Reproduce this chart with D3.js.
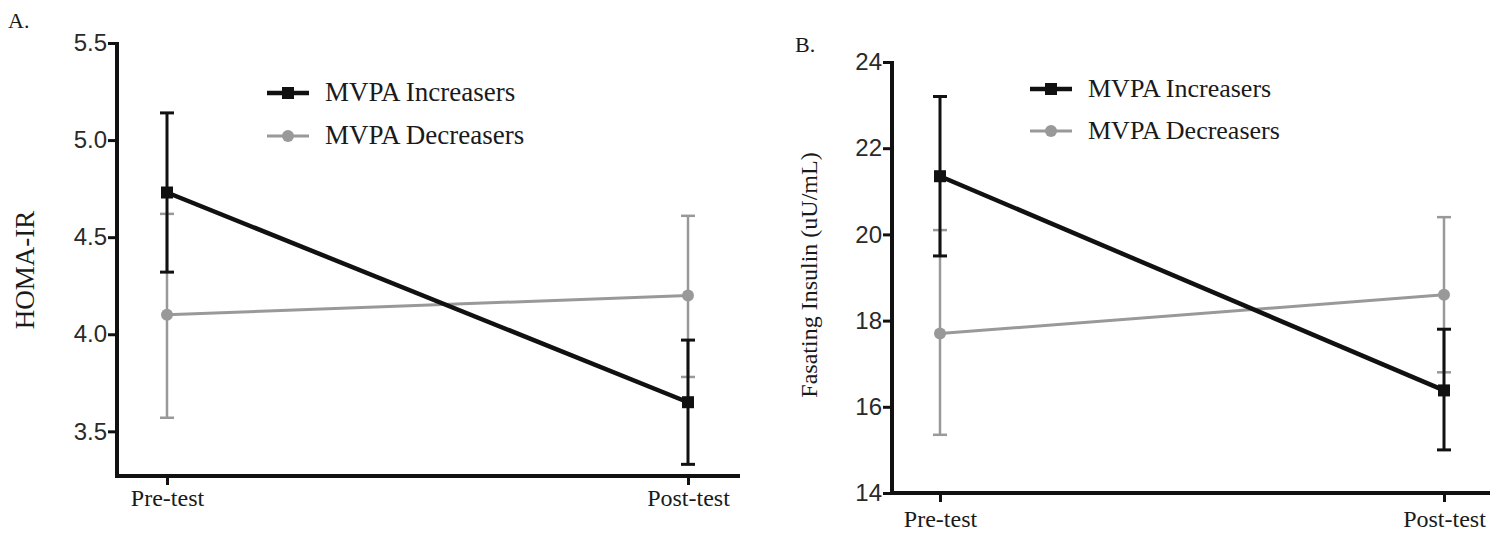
<!DOCTYPE html>
<html>
<head>
<meta charset="utf-8">
<script src="https://cdn.jsdelivr.net/npm/d3@7/dist/d3.min.js"></script>
<style>
  body { margin: 0; background: #fff; }
  svg { display: block; }
</style>
</head>
<body>
<svg id="chart" width="1504" height="538"></svg>
<script>
// ---------- DATA ----------
const categories = ["Pre-test", "Post-test"];
const seriesNames = ["MVPA Increasers", "MVPA Decreasers"];

// Panel A: HOMA-IR
const homaTicks = [3.5, 4.0, 4.5, 5.0, 5.5];
const homaIncMean = [4.73, 3.65];
const homaIncLow  = [4.32, 3.33];
const homaIncHigh = [5.14, 3.97];
const homaDecMean = [4.10, 4.20];
const homaDecLow  = [3.57, 3.78];
const homaDecHigh = [4.62, 4.61];

// Panel B: Fasting insulin
const insTicks = [14, 16, 18, 20, 22, 24];
const insIncMean = [21.35, 16.38];
const insIncLow  = [19.50, 15.00];
const insIncHigh = [23.20, 17.80];
const insDecMean = [17.70, 18.60];
const insDecLow  = [15.35, 16.80];
const insDecHigh = [20.10, 20.40];

// ---------- DRAW ----------
const svg = d3.select("#chart");
const BLACK = "#111", GRAY = "#999";
const SERIF = "Liberation Serif, Times New Roman, serif";
const SANS = "Liberation Sans, Arial, sans-serif";

function panel(opt) {
  const g = svg.append("g");
  const x = d3.scalePoint().domain(categories).range([opt.px0, opt.px1]);
  const y = d3.scaleLinear().domain(opt.domain).range([opt.yBottom, opt.yTop]);

  g.append("text").attr("x", opt.letterX).attr("y", opt.letterY)
    .attr("font-family", SERIF)
    .attr("font-size", 22).attr("fill", "#1a1a1a").text(opt.letter);

  const ya = g.append("g").attr("transform", `translate(${opt.axX},0)`)
    .call(d3.axisLeft(y).tickValues(opt.ticks).tickFormat(opt.fmt).tickSize(9).tickPadding(1));
  ya.select(".domain").remove();
  ya.selectAll(".tick line").attr("stroke", BLACK).attr("stroke-width", 3);
  ya.selectAll(".tick text").attr("font-family", SANS)
    .attr("font-size", 24).attr("fill", "#2a2a2a");

  const xa = g.append("g").attr("transform", `translate(0,${opt.yBottom})`)
    .call(d3.axisBottom(x).tickSize(9).tickPadding(opt.xPad));
  xa.select(".domain").remove();
  xa.selectAll(".tick line").attr("stroke", BLACK).attr("stroke-width", 3);
  xa.selectAll(".tick text").attr("font-family", SERIF)
    .attr("font-size", 24).attr("fill", "#1a1a1a");

  g.append("path")
    .attr("d", `M${opt.axX},${opt.yTop - 1}V${opt.yBottom}H${opt.axEnd}`)
    .attr("fill", "none").attr("stroke", BLACK).attr("stroke-width", 4)
    .attr("stroke-linejoin", "miter");

  g.append("text")
    .attr("transform", `translate(${opt.titleX},${opt.titleY}) rotate(-90)`)
    .attr("text-anchor", "middle")
    .attr("font-family", SERIF)
    .attr("font-size", opt.titleSize).attr("fill", "#1a1a1a").text(opt.title);

  const series = [
    {name: seriesNames[1], mean: opt.decMean, low: opt.decLow, high: opt.decHigh, color: GRAY, lw: 3, ew: 2.5, shape: "circle"},
    {name: seriesNames[0], mean: opt.incMean, low: opt.incLow, high: opt.incHigh, color: BLACK, lw: 4.5, ew: 3, shape: "square"}
  ];

  series.forEach(s => {
    const sg = g.append("g");
    categories.forEach((c, i) => {
      const cx = x(c);
      sg.append("line").attr("x1", cx).attr("x2", cx).attr("y1", y(s.low[i])).attr("y2", y(s.high[i]))
        .attr("stroke", s.color).attr("stroke-width", s.ew);
      [s.low[i], s.high[i]].forEach(v => {
        sg.append("line").attr("x1", cx - 7).attr("x2", cx + 7).attr("y1", y(v)).attr("y2", y(v))
          .attr("stroke", s.color).attr("stroke-width", s.ew);
      });
    });
    sg.append("path")
      .datum(categories.map((c, i) => [x(c), y(s.mean[i])]))
      .attr("d", d3.line())
      .attr("fill", "none").attr("stroke", s.color).attr("stroke-width", s.lw);
    categories.forEach((c, i) => {
      const cx = x(c), cy = y(s.mean[i]);
      if (s.shape === "square") {
        sg.append("rect").attr("x", cx - 6).attr("y", cy - 6).attr("width", 12).attr("height", 12).attr("fill", s.color);
      } else {
        sg.append("circle").attr("cx", cx).attr("cy", cy).attr("r", 6).attr("fill", s.color);
      }
    });
  });

  const leg = g.append("g");
  [series[1], series[0]].forEach((s, i) => {
    const ly = opt.legY + i * opt.legGap;
    leg.append("line").attr("x1", opt.legX).attr("x2", opt.legX + 42).attr("y1", ly).attr("y2", ly)
      .attr("stroke", s.color).attr("stroke-width", s.lw);
    const mx = opt.legX + 21;
    if (s.shape === "square") {
      leg.append("rect").attr("x", mx - 6).attr("y", ly - 6).attr("width", 12).attr("height", 12).attr("fill", s.color);
    } else {
      leg.append("circle").attr("cx", mx).attr("cy", ly).attr("r", 6).attr("fill", s.color);
    }
    leg.append("text").attr("x", opt.legX + 58).attr("y", ly + 8)
      .attr("font-family", SERIF)
      .attr("font-size", opt.legSize).attr("fill", "#1a1a1a").text(s.name);
  });
}

panel({
  letter: "A.", letterX: 8, letterY: 28,
  domain: [3.27, 5.5], ticks: homaTicks, fmt: d3.format(".1f"),
  axX: 117, axEnd: 740, yTop: 43, yBottom: 476, px0: 167, px1: 688, xPad: 4,
  title: "HOMA-IR", titleX: 34, titleY: 270, titleSize: 27,
  incMean: homaIncMean, incLow: homaIncLow, incHigh: homaIncHigh,
  decMean: homaDecMean, decLow: homaDecLow, decHigh: homaDecHigh,
  legX: 267, legY: 93, legGap: 43, legSize: 27
});

panel({
  letter: "B.", letterX: 795, letterY: 52,
  domain: [14, 24], ticks: insTicks, fmt: d3.format("d"),
  axX: 892, axEnd: 1490, yTop: 62, yBottom: 493, px0: 940, px1: 1444, xPad: 8,
  title: "Fasating Insulin (uU/mL)", titleX: 817, titleY: 275, titleSize: 24,
  incMean: insIncMean, incLow: insIncLow, incHigh: insIncHigh,
  decMean: insDecMean, decLow: insDecLow, decHigh: insDecHigh,
  legX: 1030, legY: 89, legGap: 42, legSize: 26
});
</script>
</body>
</html>
